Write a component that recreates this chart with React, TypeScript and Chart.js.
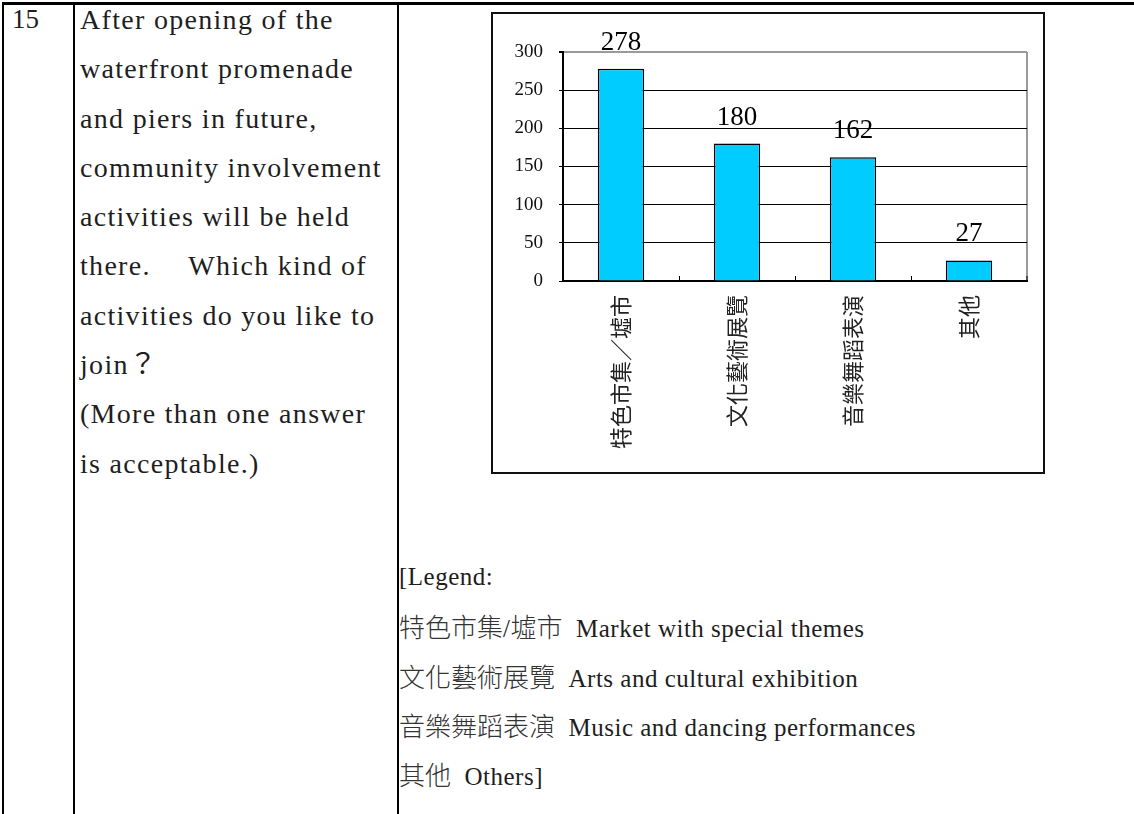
import React, { useEffect, useRef } from "react";
import { Chart, registerables } from "chart.js";

Chart.register(...registerables);

// ---- data ----
const categories = ["特色市集／墟市", "文化藝術展覽", "音樂舞蹈表演", "其他"];
const counts = [278, 180, 162, 27];
const yTickValues = [0, 50, 100, 150, 200, 250, 300];

const questionNumber = "15";
const questionLines = [
  "After opening of the",
  "waterfront promenade",
  "and piers in future,",
  "community involvement",
  "activities will be held",
  "there. \u3000Which kind of",
  "activities do you like to",
  "join？",
  "(More than one answer",
  "is acceptable.)",
];
const legendTitle = "[Legend:";
const legendChinese = [["特色市集", "/", "墟市"], ["文化藝術展覽"], ["音樂舞蹈表演"], ["其他"]];
const legendEnglish = [
  "Market with special themes",
  "Arts and cultural exhibition",
  "Music and dancing performances",
  "Others]",
];

const SERIF = '"Liberation Serif", "Times New Roman", serif';
const CJK = '"Noto Sans CJK TC", "Noto Sans CJK SC", sans-serif';
const TEXT_COLOR = "#1e1e1e";
const LINE_GAP = 49.3;

function TextLine(props: {
  x: number;
  baseline: number;
  size: number;
  spacing?: number;
  children: React.ReactNode;
}) {
  const { x, baseline, size, spacing, children } = props;
  const L = LINE_GAP;
  return (
    <div
      style={{
        position: "absolute",
        left: x,
        top: baseline - (L / 2 + 0.3375 * size),
        height: L,
        lineHeight: L + "px",
        fontSize: size,
        letterSpacing: (spacing || 0) + "px",
        whiteSpace: "pre",
        fontFamily: SERIF + ", " + CJK,
        color: TEXT_COLOR,
      }}
    >
      {children}
    </div>
  );
}

const valueLabelPlugin = {
  id: "valueLabels",
  afterDatasetsDraw(chart: any) {
    const ctx = chart.ctx;
    const meta = chart.getDatasetMeta(0);
    ctx.save();
    ctx.font = '27px "Liberation Serif"';
    ctx.fillStyle = "#000";
    ctx.textAlign = "center";
    ctx.textBaseline = "alphabetic";
    meta.data.forEach((bar: any, i: number) => {
      ctx.fillText(String(counts[i]), bar.x, bar.y - 19);
    });
    ctx.restore();
  },
};

function BarChart() {
  const ref = useRef<HTMLCanvasElement | null>(null);
  useEffect(() => {
    if (!ref.current) return;
    const chart = new Chart(ref.current, {
      type: "bar",
      data: {
        labels: categories,
        datasets: [
          {
            data: counts,
            backgroundColor: "#00CCFF",
            borderColor: "#000",
            borderWidth: 1.5,
            barPercentage: 0.4,
            categoryPercentage: 1,
          },
        ],
      },
      options: {
        animation: false,
        responsive: false,
        events: [],
        layout: { padding: { top: 38, right: 16, left: 0, bottom: 0 } },
        plugins: {
          legend: { display: false },
          tooltip: { enabled: false },
          title: { display: false },
        },
        scales: {
          x: {
            offset: true,
            grid: {
              display: true,
              offset: true,
              drawOnChartArea: true,
              color: (c: any) => (c.type === "scale" ? "#9a9a9a" : "rgba(0,0,0,0)"),
              lineWidth: (c: any) => (c.type === "scale" ? 2 : 1),
              drawTicks: true,
              tickColor: "#000",
              tickLength: -5,
              tickWidth: 1,
            },
            border: { display: true, color: "#000", width: 2 },
            ticks: {
              autoSkip: false,
              minRotation: 90,
              maxRotation: 90,
              padding: 19,
              color: "#222",
              font: { family: CJK, size: 22 },
            },
            afterFit: (s: any) => {
              s.height = 191;
            },
          },
          y: {
            min: 0,
            max: 300,
            afterBuildTicks: (s: any) => {
              s.ticks = yTickValues.map((v) => ({ value: v }));
            },
            grid: {
              color: (c: any) => (c.tick && c.tick.value === 300 ? "#9a9a9a" : "#000"),
              lineWidth: (c: any) => (c.tick && c.tick.value === 300 ? 2 : 1),
              drawTicks: true,
              tickColor: "#000",
              tickLength: 4,
            },
            border: { display: true, color: "#000", width: 2 },
            ticks: {
              padding: 16,
              color: "#111",
              font: { family: SERIF, size: 19 },
            },
            afterFit: (s: any) => {
              s.width = 70;
            },
          },
        },
      },
      plugins: [valueLabelPlugin],
    } as any);
    return () => chart.destroy();
  }, []);
  return <canvas ref={ref} width={550} height={458} style={{ display: "block", width: 550, height: 458 }} />;
}

export default function App() {
  const leftBase = 29;
  const legendBase = 585;
  return (
    <div
      style={{
        position: "absolute",
        left: 0,
        top: 0,
        width: 1134,
        height: 814,
        background: "#fff",
        overflow: "hidden",
      }}
    >
      {/* table borders */}
      <div style={{ position: "absolute", left: 2, top: 2, width: 1132, height: 3, background: "#000" }} />
      <div style={{ position: "absolute", left: 2, top: 2, width: 2, height: 812, background: "#000" }} />
      <div style={{ position: "absolute", left: 73, top: 2, width: 2, height: 812, background: "#000" }} />
      <div style={{ position: "absolute", left: 397, top: 2, width: 2, height: 812, background: "#000" }} />

      <TextLine x={12} baseline={leftBase} size={27}>
        {questionNumber}
      </TextLine>
      {questionLines.map((t, i) => (
        <TextLine key={i} x={80} baseline={leftBase + i * LINE_GAP} size={28} spacing={1.3}>
          {t}
        </TextLine>
      ))}

      {/* chart box */}
      <div
        style={{
          position: "absolute",
          left: 491,
          top: 12,
          width: 554,
          height: 462,
          border: "2px solid #111",
          boxSizing: "border-box",
          background: "#fff",
        }}
      >
        <BarChart />
      </div>

      {/* legend */}
      <TextLine x={399} baseline={legendBase} size={25} spacing={0.5}>
        {legendTitle}
      </TextLine>
      {legendChinese.map((parts, i) => (
        <TextLine key={i} x={399} baseline={legendBase + (i + 1) * LINE_GAP} size={25} spacing={0.5}>
          {parts.map((p, j) =>
            p === "/" ? (
              <span key={j}>{p}</span>
            ) : (
              <span key={j} style={{ fontFamily: CJK, fontWeight: 300, fontSize: 26, letterSpacing: 0, color: "#333" }}>
                {p}
              </span>
            )
          )}
          {"  " + legendEnglish[i]}
        </TextLine>
      ))}
    </div>
  );
}
